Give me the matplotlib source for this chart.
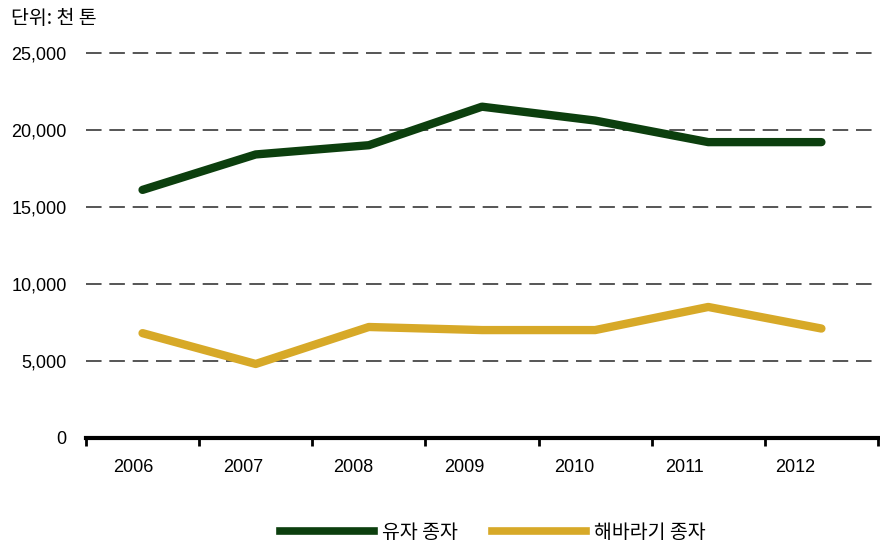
import matplotlib.pyplot as plt
from matplotlib.lines import Line2D
import numpy as np

plt.rcParams['font.family'] = ['Liberation Sans', 'Noto Sans CJK KR', 'DejaVu Sans']

years = ['2006', '2007', '2008', '2009', '2010', '2011', '2012']
yuja = [16100, 18400, 19000, 21500, 20600, 19200, 19200]
sunflower = [6800, 4800, 7200, 7000, 7000, 8500, 7100]
series_names = ['유자 종자', '해바라기 종자']
green = '#0c3f0e'
gold = '#d7a928'

fig = plt.figure(figsize=(8.8, 5.44), dpi=100)
ax = fig.add_axes([0.0977, 0.195, 0.900, 0.708])

x = np.arange(len(years))
ax.plot(x, yuja, color=green, lw=6, solid_capstyle='round', solid_joinstyle='round', zorder=3)
ax.plot(x, sunflower, color=gold, lw=6, solid_capstyle='round', solid_joinstyle='round', zorder=3)

ax.set_xlim(-0.5, len(years) - 0.5)
ax.set_ylim(0, 25000)

# dashed horizontal grid
for v in range(5000, 25001, 5000):
    ax.axhline(v, color='#555555', lw=1.4, dashes=(8, 4), zorder=1, clip_on=False)

ax.set_yticks(range(0, 25001, 5000))
ax.set_yticklabels([f'{v:,}' for v in range(0, 25001, 5000)], fontsize=13)
ax.tick_params(axis='y', length=0, pad=14)

# category boundaries as ticks, labels placed between them
ax.set_xticks(np.arange(-0.5, len(years), 1.0))
ax.set_xticklabels([])
ax.tick_params(axis='x', direction='out', length=6, width=2, color='black')
for i, yr in enumerate(years):
    ax.text(-0.085 + 0.975 * i, -0.078, yr, transform=ax.get_xaxis_transform(),
            ha='center', va='center', fontsize=13)

for s in ['top', 'right', 'left']:
    ax.spines[s].set_visible(False)
ax.spines['bottom'].set_linewidth(3)

fig.text(0.012, 0.966, '단위: 천 톤', fontsize=14, ha='left', va='center',
         family=['Noto Sans CJK KR', 'DejaVu Sans'])

handles = [Line2D([], [], color=green, lw=5.5), Line2D([], [], color=gold, lw=5.5)]
fig.legend(handles, series_names, loc='center', bbox_to_anchor=(0.56, 0.022), ncol=2,
           frameon=False, handlelength=4.8, columnspacing=1.8, handletextpad=0.4,
           prop={'family': ['Noto Sans CJK KR', 'DejaVu Sans'], 'size': 14})

fig.savefig('out.png', dpi=100)
